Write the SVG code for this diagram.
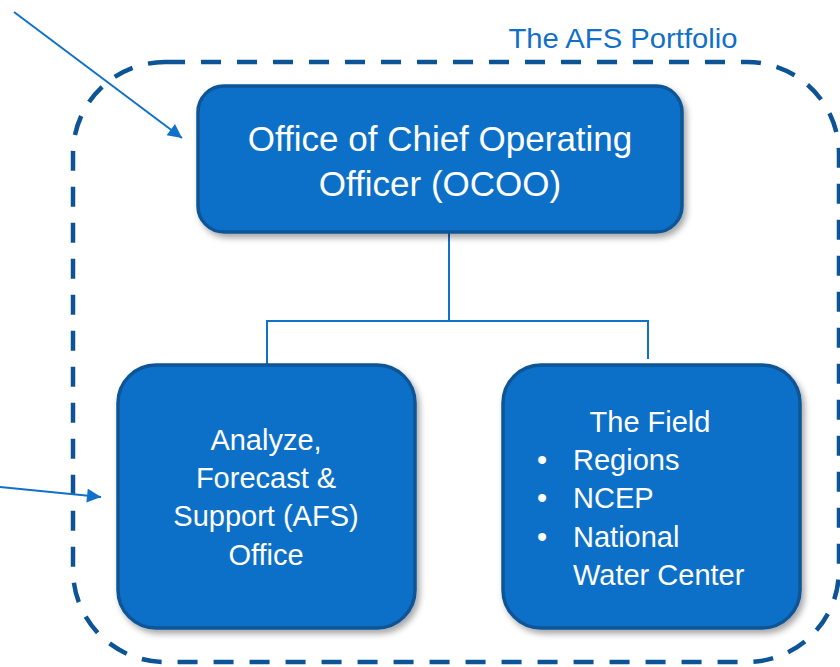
<svg xmlns="http://www.w3.org/2000/svg" width="840" height="667" viewBox="0 0 840 667">
<defs>
<filter id="sh" x="-10%" y="-10%" width="125%" height="130%">
<feDropShadow dx="3" dy="4" stdDeviation="3" flood-color="#000" flood-opacity="0.35"/>
</filter>
<marker id="ah" viewBox="0 0 10 10" refX="10" refY="5" markerWidth="8" markerHeight="7" markerUnits="strokeWidth" orient="auto">
<path d="M0,0 L10,5 L0,10 Z" fill="#1170C8"/>
</marker>
<style>
.box{fill:#1170C8;stroke:#0D5496;stroke-width:3.5;filter:url(#sh)}
.t{font-family:"Liberation Sans",Arial,sans-serif;fill:#fff;font-size:29px}
.big{font-size:35px}
.conn{stroke:#1170C8;stroke-width:2;fill:none}
.arr{stroke:#1170C8;stroke-width:2;fill:none;marker-end:url(#ah)}
</style>
</defs>
<rect width="840" height="667" fill="#fff"/>
<g id="frame">
<rect x="73" y="62" width="766" height="600" rx="92" ry="92" fill="none" stroke="#0D5496" stroke-width="4.5" stroke-dasharray="20 16"/>
<text x="623" y="48" text-anchor="middle" font-family="'Liberation Sans',Arial,sans-serif" font-size="28" fill="#1170C8" textLength="229" lengthAdjust="spacingAndGlyphs">The AFS Portfolio</text>
</g>
<g id="connectors">
<path class="conn" d="M449,232 V321 M267,365 V321 H648 V359"/>
<line class="arr" x1="14" y1="12" x2="182" y2="138"/>
<line class="arr" x1="0" y1="487" x2="101" y2="497"/>
</g>
<g id="ocoo">
<rect class="box" x="198" y="86" width="484" height="146" rx="26"/>
<text class="t big" x="440" y="151" text-anchor="middle">Office of Chief Operating</text>
<text class="t big" x="440" y="196" text-anchor="middle">Officer (OCOO)</text>
</g>
<g id="afs">
<rect class="box" x="118" y="365" width="297" height="263" rx="38"/>
<text class="t" x="266" y="450" text-anchor="middle">Analyze,</text>
<text class="t" x="266" y="488" text-anchor="middle">Forecast &amp;</text>
<text class="t" x="266" y="526" text-anchor="middle">Support (AFS)</text>
<text class="t" x="266" y="565" text-anchor="middle">Office</text>
</g>
<g id="field">
<rect class="box" x="503" y="365" width="297" height="263" rx="38"/>
<text class="t" x="650" y="432" text-anchor="middle">The Field</text>
<text class="t" x="542" y="470" text-anchor="middle">•</text>
<text class="t" x="573" y="470">Regions</text>
<text class="t" x="542" y="508" text-anchor="middle">•</text>
<text class="t" x="573" y="508">NCEP</text>
<text class="t" x="542" y="547" text-anchor="middle">•</text>
<text class="t" x="573" y="547">National</text>
<text class="t" x="573" y="585">Water Center</text>
</g>
</svg>
